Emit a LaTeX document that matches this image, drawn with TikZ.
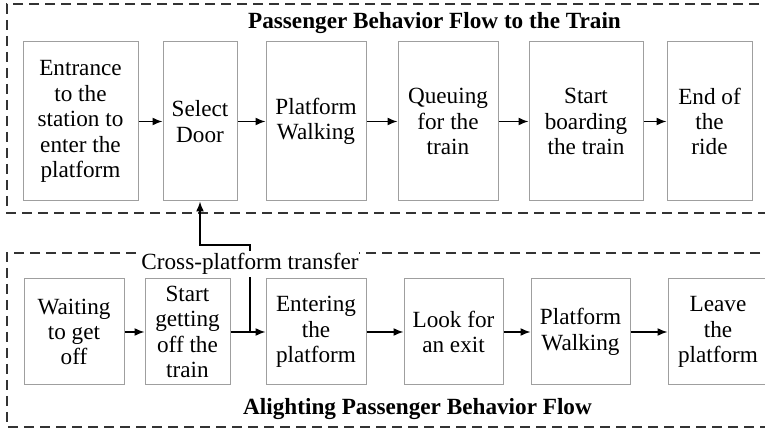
\documentclass[tikz,border=0pt]{standalone}
\usepackage{fontspec}
\setmainfont{Liberation Serif}
\usetikzlibrary{arrows.meta}
\def\stage#1#2#3#4#5 {
      \node[box, minimum width=#3, minimum height=#4] (#1) at (#2) {#5};
  }

\begin{document}
\begin{tikzpicture}[x=0.5pt, y=-0.5pt,
  box/.style = {draw=gray!75, line width=.5pt
    , fill=white, inner sep=0pt
    , align=center, font=\fontsize{11.6pt}{12.7pt}\selectfont},
  frame/.style = {draw=black!80, line width=.75pt
    , dash pattern=on 5pt off 3pt},
  title/.style = {font=\fontsize{11.6pt}{12.7pt}\selectfont\bfseries}]

 \useasboundingbox (0,0) rectangle (765,432);

 % dashed frames (open on the right)
 \draw[frame] (775,4) -- (7,4) -- (7,213) -- (775,213);
 \draw[frame] (760,253) -- (7,253) -- (7,427) -- (775,427);

 \node[title] (ttop) at (434.5,23) {Passenger Behavior Flow to the Train};
 \node[title] (tbot) at (417.5,409) {Alighting Passenger Behavior Flow};

 % boarding flow
 \stage{t1}{80.5,121.5}{57.5pt}{79.5pt}{Entrance\\to the\\station to\\enter the\\platform}
 \stage{t2}{200,121.5}{37pt}{79.5pt}{Select\\Door}
 \stage{t3}{316,121.5}{50pt}{79.5pt}{Platform\\Walking}
 \stage{t4}{448,121.5}{50pt}{79.5pt}{Queuing\\for the\\train}
 \stage{t5}{586,121.5}{57pt}{79.5pt}{Start\\boarding\\the train}
 \stage{t6}{709.5,121.5}{42.5pt}{79.5pt}{End of\\the\\ride}

 % alighting flow
 \stage{b1}{74,332}{50pt}{53pt}{Waiting\\to get\\off}
 \stage{b2}{187.5,332}{42.5pt}{53pt}{Start\\getting\\off the\\train}
 \stage{b3}{316,332}{50pt}{53pt}{Entering\\the\\platform}
 \stage{b4}{453.5,332}{49.5pt}{53pt}{Look for\\an exit}
 \stage{b5}{580.5,332}{49.5pt}{53pt}{Platform\\Walking}
 \stage{b6}{718,332}{50pt}{53pt}{Leave\\the\\platform}

 \coordinate (xfer) at (250,245);

 \begin{scope}[line width=.75pt,-{Latex[length=5pt,width=4pt]}]
  \path (t1) edge (t2);
  \path (t2) edge (t3);
  \path (t3) edge (t4);
  \path (t4) edge (t5);
  \path (t5) edge (t6);
  \path (b1) edge (b2);
  \path (b2) edge (b3);
  \path (b3) edge (b4);
  \path (b4) edge (b5);
  \path (b5) edge (b6);
  \draw (xfer |- b2.east) -- (xfer) -| (t2.south);
 \end{scope}

 \node[box, draw=none, inner ysep=1pt] (xlabel) at (250,264) {Cross-platform transfer};
\end{tikzpicture}
\end{document}
